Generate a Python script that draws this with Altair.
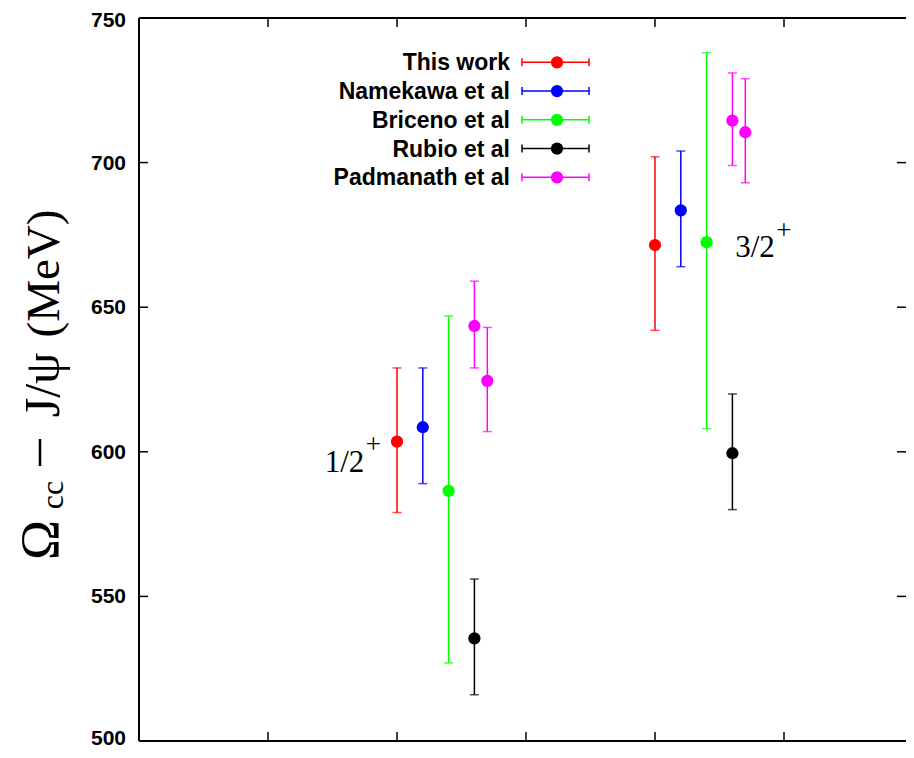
import altair as alt
import pandas as pd

# ---------------- data ----------------
series = ["This work", "Namekawa et al", "Briceno et al", "Rubio et al", "Padmanath et al"]
colors = ["#ff0000", "#0000ff", "#00ff00", "#000000", "#ff00ff"]

pt_series = ["This work", "This work",
             "Namekawa et al", "Namekawa et al",
             "Briceno et al", "Briceno et al",
             "Rubio et al", "Rubio et al",
             "Padmanath et al", "Padmanath et al", "Padmanath et al", "Padmanath et al"]
pt_x = [2.0, 4.0, 2.2, 4.2, 2.4, 4.4, 2.6, 4.6, 2.6, 2.7, 4.6, 4.7]
pt_val = [603.5, 671.5, 608.5, 683.5, 586.5, 672.5, 535.5, 599.5, 643.5, 624.5, 714.5, 710.5]
pt_lo = [579, 642, 589, 664, 527, 608, 516, 580, 629, 607, 699, 693]
pt_hi = [629, 702, 629, 704, 647, 738, 556, 620, 659, 643, 731, 729]

y_ticks = [500, 550, 600, 650, 700, 750]
x_ticks = [1, 2, 3, 4, 5]

# state labels (text, superscript) anchored in data coordinates
ann_text = ["1/2", "+", "3/2", "+"]
ann_x = [1.44, 1.757, 4.622, 4.939]
ann_y = [593.0, 599.6, 667.4, 673.6]
ann_size = [31, 27, 31, 27]

# ---------------- chart ----------------
W, H = 767, 723
PX_PER_UNIT = 129.0
xscale = alt.Scale(domain=[0, W / PX_PER_UNIT], nice=False, zero=False)
yscale = alt.Scale(domain=[500, 750], nice=False, zero=False)
cscale = alt.Scale(domain=series, range=colors)

df = pd.DataFrame({"series": pt_series, "x": pt_x, "val": pt_val, "lo": pt_lo, "hi": pt_hi})

X = lambda f: alt.X(f, scale=xscale, axis=None)
Y = lambda f: alt.Y(f, scale=yscale, axis=None)
C = alt.Color("series:N", scale=cscale, legend=None)

bars = alt.Chart(df).mark_rule(strokeWidth=1.5).encode(x=X("x:Q"), y=Y("lo:Q"), y2="hi:Q", color=C)
cap_lo = alt.Chart(df).mark_tick(orient="horizontal", size=9, thickness=1.5).encode(
    x=X("x:Q"), y=Y("lo:Q"), color=C)
cap_hi = alt.Chart(df).mark_tick(orient="horizontal", size=9, thickness=1.5).encode(
    x=X("x:Q"), y=Y("hi:Q"), color=C)
dots = alt.Chart(df).mark_circle(size=150, opacity=1).encode(x=X("x:Q"), y=Y("val:Q"), color=C)

# frame (left, top, bottom)
one = pd.DataFrame({"a": [0]})
frame = [
    alt.Chart(one).mark_rule(color="black", strokeWidth=2).encode(x=alt.value(0), y=alt.value(0), y2=alt.value(H)),
    alt.Chart(one).mark_rule(color="black", strokeWidth=2).encode(x=alt.value(0), x2=alt.value(W), y=alt.value(0)),
    alt.Chart(one).mark_rule(color="black", strokeWidth=2).encode(x=alt.value(0), x2=alt.value(W), y=alt.value(H)),
]

# inward ticks and y tick labels
ydf = pd.DataFrame({"v": y_ticks})
xdf = pd.DataFrame({"v": x_ticks})
tl = 9
lbl = dict(align="right", baseline="alphabetic", font="Liberation Sans",
           fontWeight="bold", fontSize=21, color="black")
ticks = [
    alt.Chart(ydf).mark_rule(color="black", strokeWidth=1.5).encode(
        y=Y("v:Q"), x=alt.value(0), x2=alt.value(tl)),
    alt.Chart(ydf).mark_rule(color="black", strokeWidth=1.5).encode(
        y=Y("v:Q"), x=alt.value(W - tl), x2=alt.value(W)),
    alt.Chart(xdf).mark_rule(color="black", strokeWidth=1.5).encode(
        x=X("v:Q"), y=alt.value(0), y2=alt.value(tl)),
    alt.Chart(xdf).mark_rule(color="black", strokeWidth=1.5).encode(
        x=X("v:Q"), y=alt.value(H - tl), y2=alt.value(H)),
    # inner labels
    alt.Chart(ydf).transform_filter("datum.v > 500 && datum.v < 750").mark_text(dy=7, **lbl).encode(
        y=Y("v:Q"), x=alt.value(-13), text="v:Q"),
    # edge labels, nudged to stay inside the canvas
    alt.Chart(ydf).transform_filter("datum.v == 750").mark_text(dy=9, **lbl).encode(
        y=Y("v:Q"), x=alt.value(-13), text="v:Q"),
    alt.Chart(ydf).transform_filter("datum.v == 500").mark_text(dy=3.5, **lbl).encode(
        y=Y("v:Q"), x=alt.value(-13), text="v:Q"),
]

# state annotations
ann_layers = []
for t, ax, ay, s in zip(ann_text, ann_x, ann_y, ann_size):
    d = pd.DataFrame({"t": [t], "x": [ax], "y": [ay]})
    ann_layers.append(
        alt.Chart(d).mark_text(align="left", baseline="alphabetic", font="Liberation Serif",
                               fontSize=s, color="black").encode(
            x=X("x:Q"), y=Y("y:Q"), text="t:N")
    )

# custom legend
legend_layers = []
for i, (name, col) in enumerate(zip(series, colors)):
    yy = 44.3 + 28.75 * i
    legend_layers += [
        alt.Chart(one).mark_text(align="right", baseline="middle", font="Liberation Sans",
                                 fontWeight="bold", fontSize=23, color="black").encode(
            x=alt.value(371), y=alt.value(yy + 1), text=alt.value(name)),
        alt.Chart(one).mark_rule(color=col, strokeWidth=1.5).encode(
            x=alt.value(383), x2=alt.value(450), y=alt.value(yy)),
        alt.Chart(one).mark_rule(color=col, strokeWidth=1.5).encode(
            x=alt.value(383), y=alt.value(yy - 4), y2=alt.value(yy + 4)),
        alt.Chart(one).mark_rule(color=col, strokeWidth=1.5).encode(
            x=alt.value(450), y=alt.value(yy - 4), y2=alt.value(yy + 4)),
        alt.Chart(one).mark_circle(size=150, color=col, opacity=1).encode(
            x=alt.value(418), y=alt.value(yy)),
    ]

# y-axis title, built from pieces (Omega with subscript cc, minus drawn as a short bar)
title_pieces = [
    ("Ω", -81, 522, 54),
    ("cc", -76, 477, 32),
    ("J/ψ", -80, 367, 50),
    ("(MeV)", -80, 255.5, 47),
]
title_layers = []
for t, px, py, s in title_pieces:
    title_layers.append(
        alt.Chart(one).mark_text(align="center", baseline="alphabetic", angle=270,
                                 font="Liberation Serif", fontSize=s, color="black").encode(
            x=alt.value(px), y=alt.value(py), text=alt.value(t))
    )
title_layers.append(
    alt.Chart(one).mark_rule(color="black", strokeWidth=2.5).encode(
        x=alt.value(-99), y=alt.value(421), y2=alt.value(448))
)

chart = alt.layer(
    bars, cap_lo, cap_hi, dots, *frame, *ticks, *ann_layers, *legend_layers, *title_layers
).properties(
    width=W, height=H,
    autosize=alt.AutoSizeParams(type="none"),
    padding={"left": 131, "top": 10, "right": 0, "bottom": 8},
    background="white",
).configure_view(stroke=None)

chart.save("out.html", embed_options={"renderer": "svg", "actions": False})
